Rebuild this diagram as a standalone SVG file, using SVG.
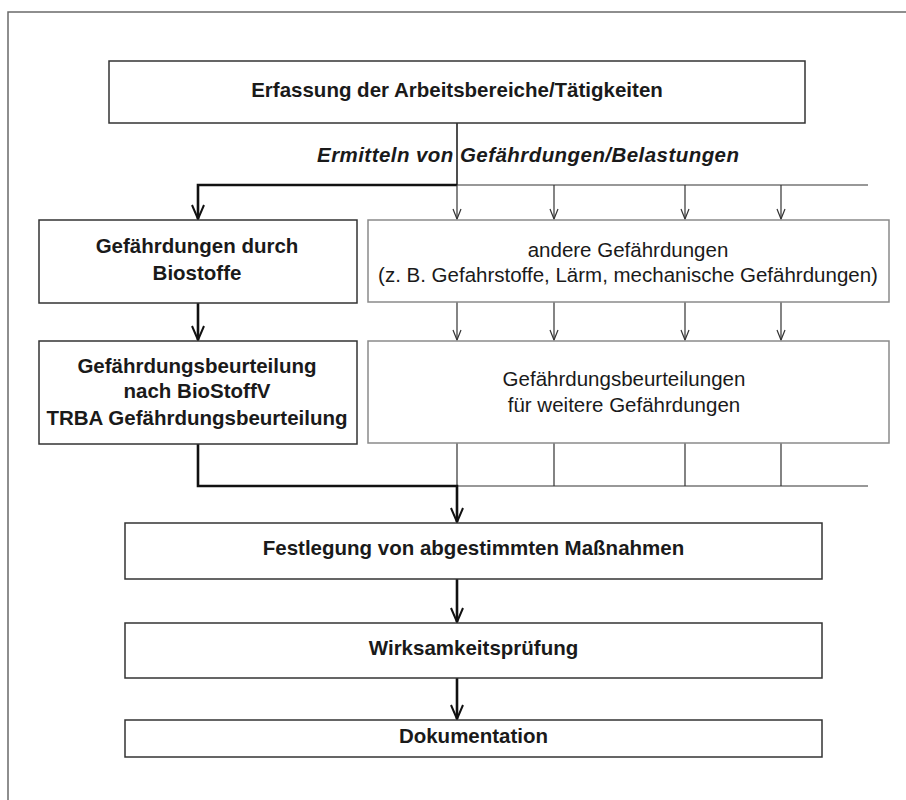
<svg xmlns="http://www.w3.org/2000/svg" width="906" height="800" viewBox="0 0 906 800">
<style>
  .frame { stroke: #6a6a6a; stroke-width: 1.5; fill: none; }
  .box { fill: #ffffff; stroke: #333333; stroke-width: 1.5; }
  .box-light { fill: #ffffff; stroke: #8a8a8a; stroke-width: 1.5; }
  .t { font-family: "Liberation Sans", Arial, sans-serif; font-size: 20.5px; fill: #1a1a1a; text-anchor: middle; }
  .b { font-weight: bold; }
  .i { font-style: italic; font-weight: bold; }
  .thick { stroke: #111111; stroke-width: 2.6; fill: none; }
  .mid { stroke: #222222; stroke-width: 1.6; fill: none; }
  .thin { stroke: #333333; stroke-width: 1.2; fill: none; }
</style>
<defs>
  <marker id="arrThick" markerUnits="userSpaceOnUse" markerWidth="16" markerHeight="14" viewBox="0 0 16 14" refX="15" refY="7" orient="auto">
    <path d="M1,1 L15,7 L1,13" fill="none" stroke="#111111" stroke-width="2"/>
  </marker>
  <marker id="arrThin" markerUnits="userSpaceOnUse" markerWidth="12" markerHeight="10" viewBox="0 0 12 10" refX="11" refY="5" orient="auto">
    <path d="M1,1 L11,5 L1,9" fill="none" stroke="#333333" stroke-width="1.2"/>
  </marker>
</defs>
<rect width="906" height="800" fill="#ffffff"/>
<path class="frame" d="M8,800 V12 H906"/>

<g id="connectors">
  <path class="mid" d="M457,123 V185"/>
  <path class="thick" d="M457,185 H198 V219" marker-end="url(#arrThick)"/>
  <path class="thin" d="M457,185 H868"/>
  <path class="thin" d="M457,185 V219" marker-end="url(#arrThin)"/>
  <path class="thin" d="M554,185 V219" marker-end="url(#arrThin)"/>
  <path class="thin" d="M685,185 V219" marker-end="url(#arrThin)"/>
  <path class="thin" d="M781,185 V219" marker-end="url(#arrThin)"/>
  <path class="thick" d="M198,303 V340" marker-end="url(#arrThick)"/>
  <path class="thin" d="M457,302 V340" marker-end="url(#arrThin)"/>
  <path class="thin" d="M554,302 V340" marker-end="url(#arrThin)"/>
  <path class="thin" d="M685,302 V340" marker-end="url(#arrThin)"/>
  <path class="thin" d="M781,302 V340" marker-end="url(#arrThin)"/>
  <path class="thin" d="M457,443 V486 M554,443 V486 M685,443 V486 M781,443 V486 M457,486 H868"/>
  <path class="thick" d="M198,444 V486 H457 V522" marker-end="url(#arrThick)"/>
  <path class="thick" d="M457,579 V622" marker-end="url(#arrThick)"/>
  <path class="thick" d="M457,678 V719" marker-end="url(#arrThick)"/>
  <text class="t i" x="317" y="162" text-anchor="start" style="text-anchor:start" textLength="422" lengthAdjust="spacing">Ermitteln von Gefährdungen/Belastungen</text>
</g>

<g id="n-erfassung">
  <rect class="box" x="109" y="61" width="696" height="62"/>
  <text class="t b" x="457" y="97">Erfassung der Arbeitsbereiche/Tätigkeiten</text>
</g>

<g id="n-biostoffe">
  <rect class="box" x="39" y="220" width="318" height="83"/>
  <text class="t b" x="197" y="253">Gefährdungen durch</text>
  <text class="t b" x="197" y="280">Biostoffe</text>
</g>

<g id="n-andere">
  <rect class="box-light" x="368" y="220" width="521" height="82"/>
  <text class="t" x="628" y="257">andere Gefährdungen</text>
  <text class="t" x="628" y="282">(z. B. Gefahrstoffe, Lärm, mechanische Gefährdungen)</text>
</g>

<g id="n-beurteilung-bio">
  <rect class="box" x="39" y="341" width="318" height="103"/>
  <text class="t b" x="197" y="373">Gefährdungsbeurteilung</text>
  <text class="t b" x="197" y="398">nach BioStoffV</text>
  <text class="t b" x="197" y="425">TRBA Gefährdungsbeurteilung</text>
</g>

<g id="n-beurteilung-weitere">
  <rect class="box-light" x="368" y="341" width="521" height="102"/>
  <text class="t" x="624" y="386">Gefährdungsbeurteilungen</text>
  <text class="t" x="624" y="412">für weitere Gefährdungen</text>
</g>

<g id="n-festlegung">
  <rect class="box" x="125" y="523" width="697" height="56"/>
  <text class="t b" x="473.5" y="555">Festlegung von abgestimmten Maßnahmen</text>
</g>

<g id="n-wirksamkeit">
  <rect class="box" x="125" y="623" width="697" height="55"/>
  <text class="t b" x="473.5" y="655">Wirksamkeitsprüfung</text>
</g>

<g id="n-dokumentation">
  <rect class="box" x="125" y="720" width="697" height="37"/>
  <text class="t b" x="473.5" y="743">Dokumentation</text>
</g>
</svg>
